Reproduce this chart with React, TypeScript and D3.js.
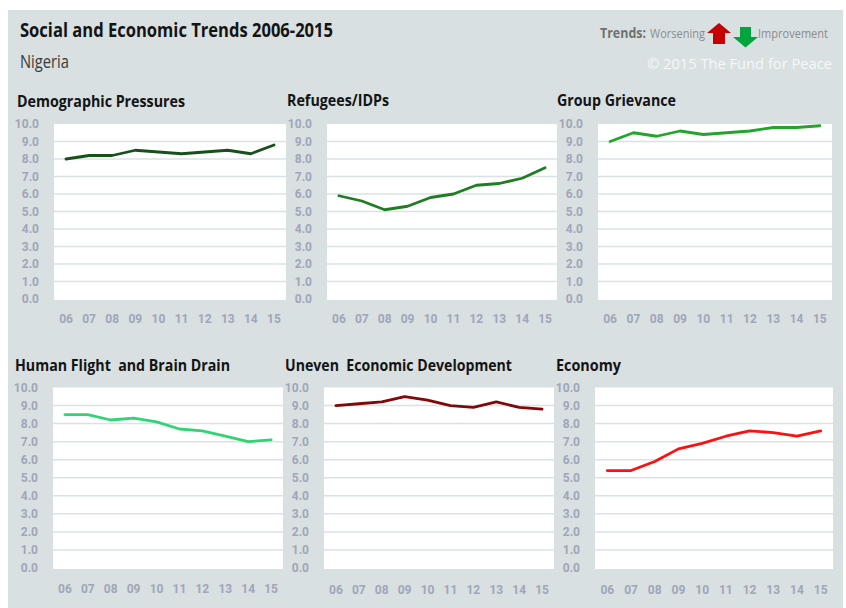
import * as React from "react";
import * as d3 from "d3";

// years on the x axis (2006-2015)
const years = ["06", "07", "08", "09", "10", "11", "12", "13", "14", "15"];
const yTicks = [0, 1, 2, 3, 4, 5, 6, 7, 8, 9, 10];

// indicator values
const demographicPressures = [8.0, 8.2, 8.2, 8.5, 8.4, 8.3, 8.4, 8.5, 8.3, 8.8];
const refugeesIDPs = [5.9, 5.6, 5.1, 5.3, 5.8, 6.0, 6.5, 6.6, 6.9, 7.5];
const groupGrievance = [9.0, 9.5, 9.3, 9.6, 9.4, 9.5, 9.6, 9.8, 9.8, 9.9];
const humanFlight = [8.5, 8.5, 8.2, 8.3, 8.1, 7.7, 7.6, 7.3, 7.0, 7.1];
const unevenDevelopment = [9.0, 9.1, 9.2, 9.5, 9.3, 9.0, 8.9, 9.2, 8.9, 8.8];
const economy = [5.4, 5.4, 5.9, 6.6, 6.9, 7.3, 7.6, 7.5, 7.3, 7.6];

const panelTitles = [
  "Demographic Pressures",
  "Refugees/IDPs",
  "Group Grievance",
  "Human Flight  and Brain Drain",
  "Uneven  Economic Development",
  "Economy"
];

const series = [
  { title: panelTitles[0], values: demographicPressures, color: "#18501a" },
  { title: panelTitles[1], values: refugeesIDPs, color: "#1f7d22" },
  { title: panelTitles[2], values: groupGrievance, color: "#22a52a" },
  { title: panelTitles[3], values: humanFlight, color: "#2fd575" },
  { title: panelTitles[4], values: unevenDevelopment, color: "#820808" },
  { title: panelTitles[5], values: economy, color: "#ff1010" }
];

// plot frames (white area) and title placement per panel
const frames = [
  { left: 54, right: 286, top: 124, bottom: 299, titleX: 17, titleY: 106.5, titleW: 168, xLabY: 322.5 },
  { left: 327, right: 557, top: 124, bottom: 299, titleX: 287, titleY: 106, titleW: 102, xLabY: 322.5 },
  { left: 598, right: 832, top: 124, bottom: 299, titleX: 557, titleY: 106, titleW: 119, xLabY: 322.5 },
  { left: 53, right: 283, top: 387.5, bottom: 568, titleX: 15, titleY: 370.5, titleW: 215, xLabY: 593 },
  { left: 324, right: 554, top: 387.5, bottom: 568, titleX: 285, titleY: 370.5, titleW: 227, xLabY: 594 },
  { left: 595, right: 833, top: 387.5, bottom: 568, titleX: 556, titleY: 370.5, titleW: 65, xLabY: 594 }
];

const BG = "#d8e0e1";
const LABEL = "#a0a6b8";
const GRID = "#dbe2e4";

const Panel = ({ s, f }) => {
  const x = d3.scalePoint<string>().domain(years).range([f.left, f.right]).padding(0.52);
  const y = d3.scaleLinear().domain([0, 10]).range([f.bottom, f.top]);
  const line = d3
    .line<number>()
    .x((d, i) => x(years[i]) as number)
    .y(d => y(d));

  return (
    <g>
      <text
        x={f.titleX}
        y={f.titleY}
        fontFamily="Open Sans"
        fontWeight={700}
        fontSize={16}
        fill="#141414"
        textLength={f.titleW}
        lengthAdjust="spacingAndGlyphs"
        style={{ whiteSpace: "pre" }}
      >
        {s.title}
      </text>
      <rect x={f.left} y={f.top} width={f.right - f.left} height={f.bottom - f.top + 1} fill="#fff" />
      {yTicks.slice(1, -1).map(t => (
        <line key={t} x1={f.left} x2={f.right} y1={y(t)} y2={y(t)} stroke={GRID} strokeWidth={1.5} />
      ))}
      {yTicks.map(t => (
        <text
          key={t}
          x={f.left - 15}
          y={y(t)}
          dy="0.35em"
          textAnchor="end"
          fontFamily="Roboto"
          fontWeight={700}
          fontSize={12}
          fill={LABEL}
        >
          {d3.format(".1f")(t)}
        </text>
      ))}
      {years.map(yr => (
        <text
          key={yr}
          x={x(yr)}
          y={f.xLabY}
          textAnchor="middle"
          fontFamily="Roboto"
          fontWeight={700}
          fontSize={12}
          fill={LABEL}
        >
          {yr}
        </text>
      ))}
      <path d={line(s.values) || ""} fill="none" stroke={s.color} strokeWidth={2.8} strokeLinejoin="round" strokeLinecap="round" />
    </g>
  );
};

const App = () => {
  return (
    <svg width={846} height={608} style={{ position: "absolute", left: 0, top: 0 }}>
      <rect x={0} y={0} width={846} height={608} fill="#fff" />
      <rect x={8} y={10} width={835} height={598} fill={BG} />

      <text x={20} y={37} fontFamily="Open Sans" fontWeight={700} fontSize={19} fill="#141414" textLength={313} lengthAdjust="spacingAndGlyphs">
        Social and Economic Trends 2006-2015
      </text>
      <text x={20} y={68} fontFamily="Open Sans" fontSize={19} fill="#3a3a3a" textLength={49} lengthAdjust="spacingAndGlyphs">
        Nigeria
      </text>

      {/* legend */}
      <text x={600} y={38} fontFamily="Open Sans" fontWeight={700} fontSize={13.5} fill="#707070" textLength={46} lengthAdjust="spacingAndGlyphs">
        Trends:
      </text>
      <text x={650} y={38} fontFamily="Open Sans" fontSize={13.5} fill="#8c8c8c" textLength={55} lengthAdjust="spacingAndGlyphs">
        Worsening
      </text>
      <polygon points="707,33 719,23 731,33 725,33 725,44 713,44 713,33" fill="#c40000" />
      <polygon points="740,27 751,27 751,37 758,37 745.5,47.5 733,37 740,37" fill="#00a53c" />
      <text x={758} y={38} fontFamily="Open Sans" fontSize={13.5} fill="#8c8c8c" textLength={70} lengthAdjust="spacingAndGlyphs">
        Improvement
      </text>
      <text x={647} y={69} fontFamily="Open Sans" fontSize={14} fill="#f6f8f8" textLength={185} lengthAdjust="spacingAndGlyphs">
        © 2015 The Fund for Peace
      </text>

      {series.map((s, i) => (
        <Panel key={s.title} s={s} f={frames[i]} />
      ))}
    </svg>
  );
};

export default App;
